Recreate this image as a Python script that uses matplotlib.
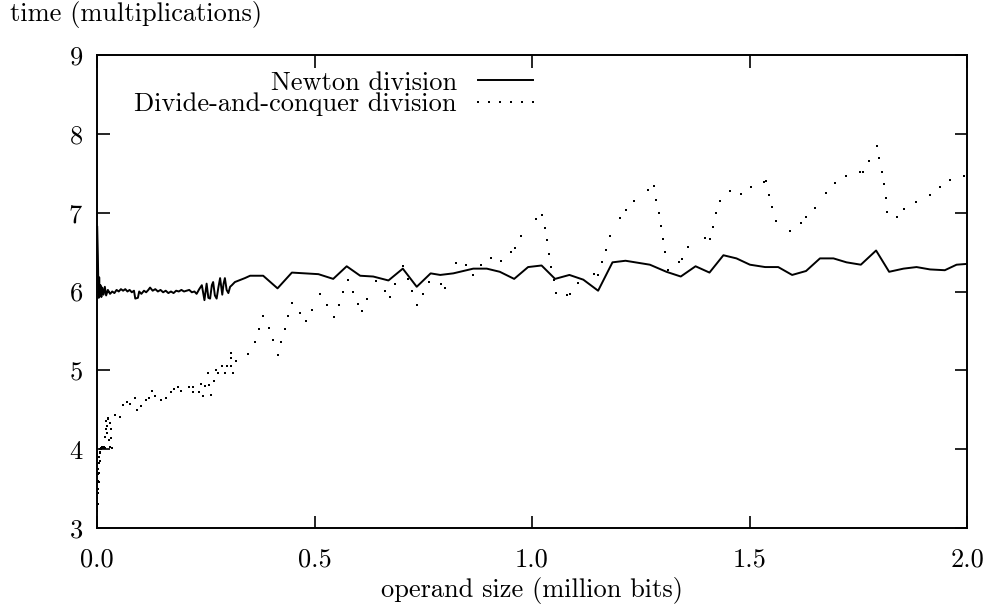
import matplotlib
matplotlib.use("Agg")
import matplotlib.pyplot as plt

# Newton division (solid line)
newton_x = [0.0005, 0.002, 0.003, 0.004, 0.005, 0.006, 0.008, 0.010, 0.012, 0.015,
            0.018, 0.021, 0.025, 0.030, 0.035, 0.040, 0.045, 0.050, 0.055, 0.060,
            0.065, 0.070, 0.075, 0.080, 0.085, 0.088, 0.094, 0.097, 0.102, 0.108,
            0.113, 0.118, 0.122, 0.128, 0.134, 0.140, 0.146, 0.152, 0.158, 0.164,
            0.170, 0.176, 0.182, 0.188, 0.194, 0.200, 0.206, 0.212, 0.218, 0.224,
            0.229, 0.235, 0.241, 0.247, 0.252, 0.256, 0.260, 0.264, 0.267, 0.271,
            0.275, 0.279, 0.283, 0.288, 0.291, 0.294, 0.298, 0.302, 0.306, 0.310,
            0.317, 0.340, 0.352, 0.382, 0.415, 0.448, 0.509, 0.543, 0.574, 0.605,
            0.635, 0.670, 0.703, 0.735, 0.767, 0.789, 0.819, 0.865, 0.896, 0.926,
            0.959, 0.991, 1.022, 1.053, 1.086, 1.118, 1.152, 1.185, 1.215, 1.271,
            1.309, 1.342, 1.376, 1.408, 1.440, 1.470, 1.501, 1.536, 1.566, 1.598,
            1.630, 1.662, 1.693, 1.723, 1.756, 1.791, 1.821, 1.854, 1.884, 1.915,
            1.949, 1.976, 2.000]
newton_y = [6.82, 6.45, 6.10, 5.92, 6.18, 5.95, 6.08, 5.93, 6.05, 5.96,
            6.06, 5.95, 6.02, 5.97, 6.00, 5.98, 6.02, 6.00, 6.03, 6.01,
            6.03, 6.00, 6.02, 5.99, 6.01, 5.91, 5.92, 6.00, 5.97, 6.01,
            5.99, 6.02, 6.05, 6.01, 6.03, 6.00, 6.02, 5.99, 6.01, 5.98,
            6.00, 5.98, 6.01, 6.00, 6.02, 6.00, 6.01, 6.02, 5.99, 6.00,
            5.97, 6.03, 6.08, 5.89, 6.10, 5.92, 5.91, 6.08, 6.12, 5.95,
            5.91, 6.05, 6.17, 5.96, 6.10, 6.17, 6.02, 5.98, 6.06, 6.08,
            6.12, 6.17, 6.20, 6.20, 6.04, 6.24, 6.22, 6.16, 6.32, 6.20,
            6.19, 6.14, 6.29, 6.06, 6.23, 6.21, 6.23, 6.29, 6.29, 6.25,
            6.16, 6.31, 6.33, 6.16, 6.21, 6.15, 6.01, 6.37, 6.39, 6.34,
            6.25, 6.19, 6.32, 6.24, 6.46, 6.42, 6.34, 6.31, 6.31, 6.21,
            6.26, 6.42, 6.42, 6.37, 6.34, 6.52, 6.25, 6.29, 6.31, 6.28,
            6.27, 6.34, 6.35]

# Divide-and-conquer division (dots)
dc_x = [0.001, 0.001, 0.002, 0.002, 0.002, 0.003, 0.003, 0.003, 0.004, 0.004,
        0.005, 0.005, 0.006, 0.006, 0.007, 0.008, 0.009, 0.010, 0.012, 0.014,
        0.016, 0.018, 0.019, 0.020, 0.021, 0.022, 0.024, 0.025, 0.026, 0.027,
        0.029, 0.030, 0.032, 0.033, 0.034, 0.041, 0.053, 0.060, 0.070, 0.077,
        0.087, 0.093, 0.100, 0.113, 0.120, 0.126, 0.134, 0.146, 0.159, 0.169,
        0.177, 0.186, 0.194, 0.211, 0.221, 0.221, 0.234, 0.240, 0.244, 0.248,
        0.256, 0.257, 0.261, 0.269, 0.274, 0.279, 0.288, 0.294, 0.298, 0.307,
        0.307, 0.309, 0.313, 0.319, 0.348, 0.363, 0.373, 0.382, 0.395, 0.404,
        0.415, 0.424, 0.432, 0.438, 0.448, 0.467, 0.480, 0.494, 0.513, 0.529,
        0.545, 0.556, 0.566, 0.577, 0.589, 0.600, 0.609, 0.621, 0.641, 0.662,
        0.674, 0.685, 0.703, 0.715, 0.724, 0.735, 0.749, 0.763, 0.791, 0.800,
        0.825, 0.848, 0.864, 0.883, 0.906, 0.929, 0.952, 0.961, 0.975, 1.009,
        1.024, 1.030, 1.034, 1.039, 1.044, 1.050, 1.055, 1.080, 1.087, 1.106,
        1.143, 1.152, 1.161, 1.170, 1.179, 1.202, 1.216, 1.234, 1.266, 1.280,
        1.285, 1.291, 1.297, 1.301, 1.306, 1.313, 1.338, 1.345, 1.358, 1.398,
        1.409, 1.415, 1.422, 1.432, 1.455, 1.480, 1.503, 1.533, 1.537, 1.544,
        1.551, 1.560, 1.593, 1.618, 1.631, 1.651, 1.677, 1.697, 1.722, 1.754,
        1.760, 1.774, 1.792, 1.798, 1.804, 1.809, 1.813, 1.817, 1.838, 1.855,
        1.882, 1.915, 1.938, 1.962, 1.993]
dc_y = [3.22, 3.38, 3.30, 3.50, 3.60, 3.45, 3.68, 3.75, 3.58, 3.82,
        3.90, 3.70, 3.95, 3.85, 4.00, 3.97, 4.02, 4.00, 4.03, 4.01,
        4.03, 4.16, 4.02, 4.36, 4.25, 4.30, 4.20, 4.38, 4.40, 4.12,
        4.03, 4.33, 4.14, 4.25, 4.02, 4.43, 4.41, 4.56, 4.60, 4.57,
        4.65, 4.50, 4.55, 4.63, 4.65, 4.74, 4.67, 4.62, 4.65, 4.72,
        4.76, 4.79, 4.74, 4.79, 4.79, 4.72, 4.73, 4.83, 4.67, 4.80,
        4.96, 4.81, 4.69, 4.86, 5.01, 4.96, 5.05, 4.96, 5.05, 5.22,
        5.16, 5.05, 4.96, 5.12, 5.21, 5.36, 5.53, 5.69, 5.54, 5.38,
        5.20, 5.36, 5.52, 5.69, 5.85, 5.73, 5.63, 5.77, 5.97, 5.83,
        5.68, 5.83, 5.99, 6.15, 5.99, 5.84, 5.75, 5.91, 6.13, 6.01,
        5.93, 6.10, 6.32, 6.16, 6.01, 5.83, 5.97, 6.12, 6.10, 6.04,
        6.36, 6.34, 6.21, 6.34, 6.43, 6.39, 6.50, 6.55, 6.70, 6.92,
        6.97, 6.81, 6.65, 6.48, 6.31, 6.15, 5.98, 5.95, 5.97, 6.11,
        6.22, 6.21, 6.37, 6.53, 6.70, 6.93, 7.03, 7.15, 7.29, 7.34,
        7.16, 7.00, 6.83, 6.67, 6.50, 6.27, 6.37, 6.41, 6.56, 6.68,
        6.66, 6.82, 6.99, 7.15, 7.28, 7.24, 7.32, 7.39, 7.40, 7.23,
        7.07, 6.90, 6.77, 6.87, 6.94, 7.06, 7.25, 7.37, 7.46, 7.51,
        7.52, 7.66, 7.85, 7.69, 7.52, 7.36, 7.19, 7.01, 6.95, 7.05,
        7.14, 7.23, 7.33, 7.41, 7.46]

x_ticks = [0.0, 0.5, 1.0, 1.5, 2.0]
x_tick_labels = ["0.0", "0.5", "1.0", "1.5", "2.0"]
y_ticks = [3, 4, 5, 6, 7, 8, 9]

plt.rcParams["font.family"] = "serif"
plt.rcParams["font.serif"] = ["cmr10"]
plt.rcParams["axes.formatter.use_mathtext"] = True
plt.rcParams["font.size"] = 19

fig = plt.figure(figsize=(9.88, 6.10), dpi=100)
ax = fig.add_axes([97 / 988, 1 - 528 / 610, 870 / 988, 473 / 610])

ax.plot(newton_x, newton_y, color="black", linewidth=1.4, label="Newton division")
ax.plot(dc_x, dc_y, linestyle="none", marker="s", markersize=1.7, markeredgewidth=0,
        color="black", label="Divide-and-conquer division")

ax.set_xlim(0, 2)
ax.set_ylim(3, 9)
ax.set_xticks(x_ticks)
ax.set_xticklabels(x_tick_labels)
ax.set_yticks(y_ticks)
ax.tick_params(direction="in", length=9, width=1.2, top=True, right=True, pad=10)
ax.tick_params(axis="x", pad=14)
for s in ax.spines.values():
    s.set_linewidth(1.4)

ax.set_xlabel("operand size (million bits)", labelpad=4)
ax.set_ylabel("time (multiplications)", rotation=0, ha="left", va="center")
ax.yaxis.set_label_coords(-0.1, 1.085)

ax.legend(loc="upper right", bbox_to_anchor=(0.529, 1.0), frameon=False, markerfirst=False,
          handlelength=2.7, handletextpad=0.5, labelspacing=-0.07, numpoints=6,
          borderpad=0.6, borderaxespad=0)

fig.savefig("out.png", dpi=100)
